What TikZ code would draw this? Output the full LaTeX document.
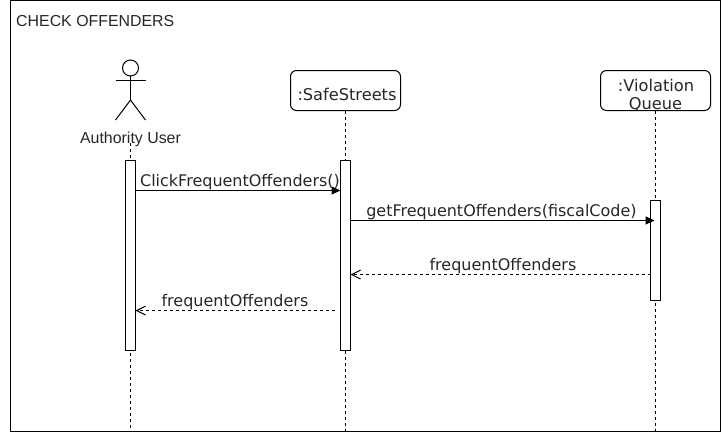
\documentclass[tikz,border=0pt]{standalone}
\usepackage{fontspec}
\setmainfont{Liberation Sans}
\newfontfamily\msgfont{DejaVu Sans}
\usetikzlibrary{arrows.meta}
\tikzset{
  line/.style={draw=black,line width=1pt},
  lifebox/.style={line,rounded corners=6pt,minimum width=110pt,minimum height=40pt,inner sep=0pt,outer sep=0pt,anchor=north west,fill=white},
  actbar/.style={line,fill=white,minimum width=10pt,inner sep=0pt,outer sep=0pt,anchor=north west},
  lifeline/.style={line,dash pattern=on 3pt off 3pt},
  callmsg/.style={line,-{Triangle[length=9pt,width=8pt]}},
  retmsg/.style={line,dash pattern=on 3pt off 3pt,-{Straight Barb[length=9pt,width=9pt]}},
  msglabel/.style={font=\msgfont\fontsize{16}{18}\selectfont,text=black!85,inner sep=0pt},
}
\begin{document}
\begin{tikzpicture}[x=1pt,y=-1pt]
\useasboundingbox (0,0) rectangle (721,432);
\node[line,minimum width=709.5pt,minimum height=431pt,inner sep=0pt,outer sep=0pt,anchor=north west] (frame) at (10.5,0.5) {};
\node[anchor=west,inner sep=0pt,font=\fontsize{15.9}{18}\selectfont,text=black!85] (title) at (16,21) {CHECK OFFENDERS};

% lifeline ends
\coordinate (endA) at (130.5,431);
\coordinate (endS) at (345.5,431);
\coordinate (endV) at (655.5,431);
\coordinate (startA) at (130.5,143);

% lifelines
\draw[lifeline] (startA) -- (endA);

% actor
\node[circle,line,minimum size=16pt,inner sep=0pt,outer sep=0pt] (head) at (130.5,68) {};
\coordinate (hip) at (130.5,100);
\coordinate (armL) at (115.5,80);
\coordinate (armR) at (145.5,80);
\coordinate (legL) at (115.5,120);
\coordinate (legR) at (145.5,120);
\draw[line] (head.south) -- (hip);
\draw[line] (armL) -- (armR);
\draw[line] (legL) -- (hip) -- (legR);
\node[inner sep=0pt,font=\fontsize{15.9}{18}\selectfont,text=black!85] (actorlabel) at (130.5,139) {Authority User};

% object boxes
\node[lifebox] (safe) at (290.5,70.5) {};
\node[msglabel,font=\msgfont\fontsize{16.2}{18}\selectfont] (safetext) at (347,94) {:SafeStreets};
\node[lifebox] (queue) at (600.5,70.5) {};
\node[msglabel,font=\msgfont\fontsize{16.2}{18}\selectfont] (queuetext1) at (656,85.5) {:Violation};
\node[msglabel,font=\msgfont\fontsize{16.2}{18}\selectfont] (queuetext2) at (655.5,105) {Queue};

\draw[lifeline] (safe.south) -- (endS);
\draw[lifeline] (queue.south) -- (endV);

% activation bars
\node[actbar,minimum height=190pt] (barA) at (125.5,160.5) {};
\node[actbar,minimum height=190pt] (barS) at (340.5,160.5) {};
\node[actbar,minimum height=100pt] (barV) at (650.5,200.5) {};

% messages
\coordinate (m1) at (0,190.5);
\coordinate (m2) at (0,220.5);
\coordinate (m3) at (0,274.5);
\coordinate (m4) at (0,310.5);
\coordinate (tipV) at (654.5,220.5);
\coordinate (startS) at (335,310.5);
\draw[callmsg] (barA.east |- m1) -- (barS.west |- m1);
\draw[callmsg] (barS.east |- m2) -- (tipV);
\draw[retmsg] (barV.west |- m3) -- (barS.east |- m3);
\draw[retmsg] (startS) -- (barA.east |- m4);

\node[msglabel] (l1) at (240,182) {ClickFrequentOffenders()};
\node[msglabel] (l2) at (501.5,212) {getFrequentOffenders(fiscalCode)};
\node[msglabel] (l3) at (503,266) {frequentOffenders};
\node[msglabel] (l4) at (235,302) {frequentOffenders};
\end{tikzpicture}
\end{document}
